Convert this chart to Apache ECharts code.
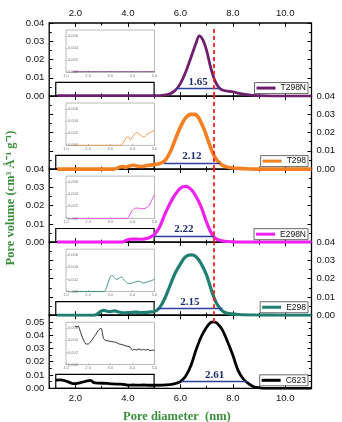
<!DOCTYPE html>
<html><head><meta charset="utf-8">
<script src="https://cdn.jsdelivr.net/npm/echarts@6/dist/echarts.min.js"></script>
<style>html,body{margin:0;padding:0;background:#fff}#c{width:342px;height:422px}</style>
</head><body><div id="c"></div>
<script>
// ---------------- data ----------------
const seriesNames = ['T298N', 'T298', 'E298N', 'E298', 'C623'];

const xT298N = [1.3, 2.0, 3.0, 4.0, 5.0, 5.4, 5.6, 5.8, 6.0, 6.2, 6.4, 6.6, 6.72, 6.85, 7.0, 7.15, 7.3, 7.45, 7.6, 7.8, 8.0, 8.3, 8.6, 9.0, 9.5, 10.0, 11.0];
const yT298N = [0.0002, 0.0002, 0.0002, 0.0002, 0.0002, 0.0005, 0.0012, 0.003, 0.0068, 0.013, 0.021, 0.029, 0.033, 0.031, 0.025, 0.016, 0.009, 0.005, 0.0033, 0.0027, 0.0023, 0.0013, 0.0006, 0.0002, 0, 0, 0];

const xT298 = [1.3, 2.0, 3.0, 3.45, 3.6, 3.73, 3.83, 3.9, 4.06, 4.2, 4.36, 4.51, 4.67, 4.85, 5.0, 5.2, 5.4, 5.6, 5.8, 6.0, 6.2, 6.4, 6.55, 6.7, 6.9, 7.1, 7.3, 7.5, 7.7, 8.0, 8.5, 9.0, 10.0, 11.0];
const yT298 = [0, 0, 0, 0, 0.0005, 0.0013, 0.0014, 0.0009, 0.0017, 0.0021, 0.0017, 0.0014, 0.0018, 0.0022, 0.0025, 0.003, 0.0045, 0.009, 0.016, 0.023, 0.028, 0.030, 0.030, 0.028, 0.022, 0.014, 0.007, 0.0033, 0.0015, 0.0006, 0.0002, 0, 0, 0];

const xE298N = [1.3, 2.0, 3.0, 3.76, 3.85, 3.95, 4.05, 4.15, 4.3, 4.45, 4.6, 4.75, 4.85, 4.95, 5.0, 5.2, 5.4, 5.6, 5.8, 6.0, 6.2, 6.4, 6.6, 6.8, 7.0, 7.2, 7.4, 7.7, 8.0, 8.5, 9.0, 10.0, 11.0];
const yE298N = [0, 0, 0, 0, 0.0004, 0.0011, 0.0015, 0.0017, 0.0017, 0.0016, 0.0017, 0.0021, 0.0028, 0.0036, 0.0039, 0.008, 0.015, 0.021, 0.026, 0.0295, 0.0305, 0.029, 0.025, 0.019, 0.011, 0.0045, 0.0015, 0.0005, 0.0002, 0, 0, 0, 0];

const xE298 = [1.3, 2.0, 2.7, 2.8, 2.9, 3.0, 3.08, 3.2, 3.3, 3.4, 3.5, 3.65, 3.83, 4.0, 4.15, 4.3, 4.5, 4.7, 4.85, 5.0, 5.2, 5.4, 5.6, 5.8, 6.0, 6.2, 6.42, 6.6, 6.8, 7.0, 7.2, 7.4, 7.6, 7.8, 8.2, 9.0, 10.0, 11.0];
const yE298 = [0, 0, 0, 0.0003, 0.0014, 0.0024, 0.0027, 0.0022, 0.002, 0.0022, 0.0024, 0.0018, 0.0013, 0.0014, 0.0016, 0.0017, 0.0014, 0.0016, 0.0018, 0.002, 0.004, 0.009, 0.016, 0.023, 0.028, 0.032, 0.033, 0.032, 0.028, 0.022, 0.013, 0.006, 0.0025, 0.001, 0.0004, 0.0001, 0, 0];

const xC623 = [1.25, 1.45, 1.55, 1.7, 1.9, 2.0, 2.2, 2.45, 2.58, 2.7, 2.9, 3.2, 3.4, 3.7, 3.9, 4.0, 4.2, 4.4, 4.6, 4.8, 5.0, 5.3, 5.6, 5.8, 6.0, 6.2, 6.4, 6.6, 6.8, 7.0, 7.15, 7.27, 7.4, 7.6, 7.8, 8.0, 8.2, 8.4, 8.6, 8.8, 9.0, 9.3, 10.0, 11.0];
const yC623 = [0.0062, 0.0063, 0.006, 0.005, 0.0036, 0.0035, 0.0042, 0.0056, 0.006, 0.0043, 0.0039, 0.0037, 0.0033, 0.0031, 0.0028, 0.0024, 0.0025, 0.0024, 0.0025, 0.0023, 0.0023, 0.0024, 0.0028, 0.0035, 0.005, 0.009, 0.017, 0.029, 0.039, 0.046, 0.0495, 0.050, 0.049, 0.044, 0.035, 0.025, 0.0135, 0.007, 0.0035, 0.0012, 0.0004, 0, 0, 0];

// inset (zoomed 1–5 nm) data
const xInsetT298N = [1.3, 5.0];
const yInsetT298N = [0.0001, 0.0001];
const xInsetT298 = [1.3, 2.0, 3.0, 3.45, 3.6, 3.73, 3.83, 3.9, 4.06, 4.2, 4.36, 4.51, 4.67, 4.85, 5.0];
const yInsetT298 = [0, 0, 0, 0, 0.0005, 0.0013, 0.0014, 0.0009, 0.0017, 0.0021, 0.0017, 0.0014, 0.0018, 0.0022, 0.0025];
const xInsetE298N = [1.3, 2.0, 3.0, 3.76, 3.85, 3.95, 4.05, 4.15, 4.3, 4.45, 4.6, 4.75, 4.85, 4.95, 5.0];
const yInsetE298N = [0, 0, 0, 0, 0.0004, 0.0011, 0.0015, 0.0017, 0.0017, 0.0016, 0.0017, 0.0021, 0.0028, 0.0036, 0.0039];
const xInsetE298 = [1.3, 2.0, 2.7, 2.8, 2.9, 3.0, 3.08, 3.2, 3.3, 3.4, 3.5, 3.65, 3.83, 4.0, 4.15, 4.3, 4.5, 4.7, 4.85, 5.0];
const yInsetE298 = [0, 0, 0, 0.0003, 0.0014, 0.0024, 0.0027, 0.0022, 0.002, 0.0022, 0.0024, 0.0018, 0.0013, 0.0014, 0.0016, 0.0017, 0.0014, 0.0016, 0.0018, 0.002];
const xInsetC623 = [1.4, 1.45, 1.5, 1.55, 1.6, 1.7, 1.8, 1.9, 2.0, 2.1, 2.2, 2.35, 2.47, 2.58, 2.7, 2.8, 2.92, 3.05, 3.23, 3.4, 3.55, 3.68, 3.8, 3.9, 4.0, 4.1, 4.2, 4.3, 4.4, 4.5, 4.6, 4.7, 4.8, 4.9, 5.0];
const yInsetC623 = [0.0062, 0.0064, 0.0062, 0.0064, 0.006, 0.0049, 0.004, 0.0034, 0.0034, 0.0037, 0.0042, 0.005, 0.0057, 0.006, 0.0043, 0.004, 0.0039, 0.0038, 0.0037, 0.0034, 0.0033, 0.0031, 0.003, 0.0029, 0.0024, 0.0025, 0.0024, 0.0026, 0.0024, 0.0025, 0.0024, 0.0025, 0.0023, 0.0024, 0.0023];

// width annotations (nm) and their horizontal bars
const widthLabels = ['1.65', '2.12', '2.22', '2.15', '2.61'];
const widthStart = [5.85, 5.38, 5.0, 5.12, 6.06];
const widthEnd = [7.5, 7.5, 7.27, 7.6, 8.55];
const widthLevel = [0.0042, 0.0033, 0.0033, 0.0037, 0.005];
const refLineX = 7.27;
const refLineBottom = [0, 0, 0, 0, 0.050];
const refLineTop = [0.037, 0.04, 0.04, 0.04, 0.055];
const yMaxMain = [0.04, 0.04, 0.04, 0.04, 0.055];
const zoomBoxX = [1.25, 5.0];
const zoomBoxTop = [0.0075, 0.0075, 0.0075, 0.0075, 0.0105];
const xTickValues = [2, 4, 6, 8, 10];

// ---------------- build ----------------
const mainX = [xT298N, xT298, xE298N, xE298, xC623];
const mainY = [yT298N, yT298, yE298N, yE298, yC623];
const insX = [xInsetT298N, xInsetT298, xInsetE298N, xInsetE298, xInsetC623];
const insY = [yInsetT298N, yInsetT298, yInsetE298N, yInsetE298, yInsetC623];
const colors = ['#6e1f6e', '#f28022', '#f020f0', '#1f7f70', '#000000'];
const widths = [2.8, 3.6, 3.2, 3.2, 2.8];
const zip = (a, b) => a.map((v, k) => [v, b[k]]);

const SANS = "'Liberation Sans', Arial, sans-serif";
const SERIF = "'Liberation Serif', 'Times New Roman', serif";
const TOP = 23, PH = 73.06, LEFT = 49.2, PW = 262.3;

const grids = [], xAxes = [], yAxes = [], series = [], legends = [];
const tickStyle = { color: '#000', width: 1 };
const lbl = { fontSize: 9.5, color: '#111', fontFamily: SANS };

for (let i = 0; i < 5; i++) {
  grids.push({ left: LEFT, top: TOP + i * PH, width: PW, height: PH, show: true,
    borderColor: '#000', borderWidth: 1.3, backgroundColor: 'transparent' });
  ['bottom', 'top'].forEach(pos => {
    const showL = (pos === 'bottom' && i === 4) || (pos === 'top' && i === 0);
    xAxes.push({ type: 'value', gridIndex: i, position: pos, min: 1, max: 11,
      axisLine: { show: false, onZero: false }, splitLine: { show: false },
      axisTick: { show: true, inside: true, length: 4, customValues: xTickValues, lineStyle: tickStyle },
      axisLabel: { show: showL, customValues: xTickValues, formatter: v => v.toFixed(1), margin: 5, ...lbl } });
    xAxes.push({ type: 'value', gridIndex: i, position: pos, min: 1, max: 11, interval: 2,
      axisLine: { show: false, onZero: false }, splitLine: { show: false },
      axisTick: { show: true, inside: true, length: 2.5, lineStyle: tickStyle },
      axisLabel: { show: false } });
  });
  ['left', 'right'].forEach(pos => {
    const showL = (pos === 'left') === (i % 2 === 0);
    yAxes.push({ type: 'value', gridIndex: i, position: pos, min: 0, max: yMaxMain[i], interval: 0.01,
      axisLine: { show: false, onZero: false }, splitLine: { show: false },
      axisTick: { show: true, inside: true, length: 4, lineStyle: tickStyle },
      minorTick: { show: true, splitNumber: 2, length: 2.5, lineStyle: tickStyle },
      axisLabel: { show: showL, formatter: v => v.toFixed(2), margin: 5, showMaxLabel: i !== 4, showMinLabel: true, ...lbl } });
  });
}
for (let i = 0; i < 5; i++) {
  grids.push({ left: 66, top: TOP + i * PH + 7, width: 88.5, height: 42.3, show: true,
    borderColor: '#aaa', borderWidth: 0.8, backgroundColor: 'transparent' });
  xAxes.push({ type: 'value', gridIndex: 5 + i, min: 1, max: 5, interval: 1,
    axisLine: { show: false, onZero: false }, splitLine: { show: false },
    axisTick: { show: true, inside: true, length: 1.5, lineStyle: { color: '#999', width: 0.6 } },
    axisLabel: { fontSize: 4, color: '#777', margin: 1.5, fontFamily: SANS, formatter: v => v.toFixed(1) } });
  yAxes.push({ type: 'value', gridIndex: 5 + i, min: 0, max: 0.007, interval: 0.002,
    axisLine: { show: false, onZero: false }, splitLine: { show: false },
    axisTick: { show: true, inside: true, length: 1.5, lineStyle: { color: '#999', width: 0.6 } },
    axisLabel: { inside: true, fontSize: 4, color: '#777', margin: 2, fontFamily: SANS, showMaxLabel: false, formatter: v => v.toFixed(3) } });
}

for (let i = 0; i < 5; i++) {
  series.push({
    name: seriesNames[i], type: 'line', xAxisIndex: 4 * i, yAxisIndex: 2 * i,
    data: zip(mainX[i], mainY[i]), smooth: 0.35, showSymbol: false, symbol: 'none',
    color: colors[i], lineStyle: { color: colors[i], width: widths[i] }, z: 3,
    markArea: { silent: true, label: { show: false },
      itemStyle: { color: 'rgba(0,0,0,0)', borderColor: '#000', borderWidth: 1.2 },
      data: [[{ coord: [zoomBoxX[0], 0] }, { coord: [zoomBoxX[1], zoomBoxTop[i]] }]] },
    markLine: { silent: true, symbol: ['none', 'none'], animation: false,
      data: [
        [{ coord: [widthStart[i], widthLevel[i]],
           lineStyle: { color: '#2d3f9e', width: 1.4, type: 'solid' },
           label: { show: true, position: 'middle', formatter: widthLabels[i], color: '#1d2a6b',
             fontSize: 11, fontWeight: 'bold', fontFamily: SERIF, distance: 1 } },
         { coord: [widthEnd[i], widthLevel[i]] }],
        [{ coord: [refLineX, refLineBottom[i]],
           lineStyle: { color: '#ff1f1f', width: 1.8, type: [4, 3] }, label: { show: false } },
         { coord: [refLineX, refLineTop[i]] }]
      ] }
  });
  series.push({
    name: seriesNames[i] + ' inset', type: 'line', xAxisIndex: 20 + i, yAxisIndex: 10 + i,
    data: zip(insX[i], insY[i]), smooth: 0.3, showSymbol: false, symbol: 'none',
    color: colors[i], lineStyle: { color: colors[i], width: 0.8 }
  });
  legends.push({ data: [seriesNames[i]], right: 34, top: TOP + (i + 1) * PH - 13.5,
    icon: 'rect', itemWidth: 19, itemHeight: 3, padding: [1, 2, 1, 2],
    borderColor: '#444', borderWidth: 0.8, backgroundColor: '#fff', selectedMode: false,
    textStyle: { fontSize: 8.5, fontFamily: SANS, color: '#111' } });
}

const chart = echarts.init(document.getElementById('c'), null, { renderer: 'canvas' });
chart.setOption({
  animation: false,
  backgroundColor: '#fff',
  grid: grids, xAxis: xAxes, yAxis: yAxes, series: series, legend: legends,
  graphic: [
    { type: 'text', left: 123, top: 410,
      style: { text: 'Pore diameter  (nm)', font: "bold 12.5px " + SERIF, fill: '#3a8f3a' } },
    { type: 'text', x: 11, y: 198, rotation: Math.PI / 2,
      style: { text: 'Pore volume (cm³ Å⁻¹ g⁻¹)', font: "bold 12.5px " + SERIF, fill: '#3a8f3a',
        align: 'center', verticalAlign: 'middle' } }
  ]
});
</script></body></html>
